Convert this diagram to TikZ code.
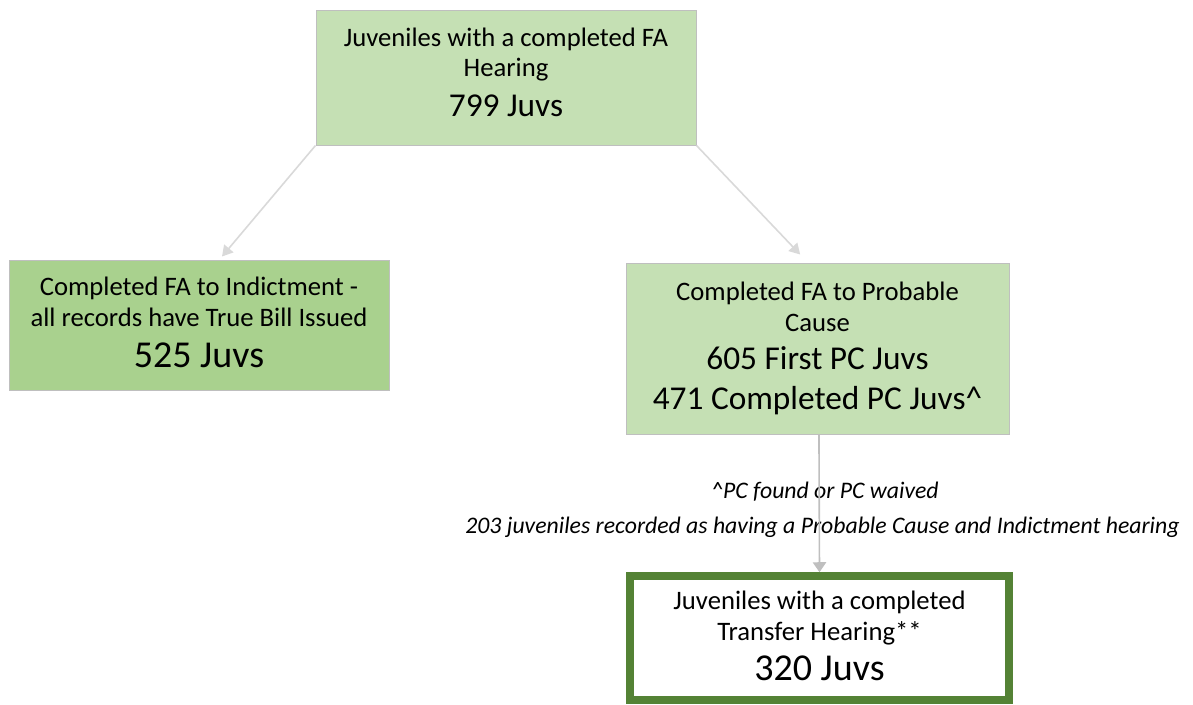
\documentclass[tikz,border=0pt]{standalone}
\usepackage{fontspec}
\setmainfont{Carlito}
\usepackage{tikz}
\usetikzlibrary{arrows.meta,positioning}

\definecolor{palegreen}{HTML}{C5E0B4}
\definecolor{midgreen}{HTML}{A9D18E}
\definecolor{darkgreen}{HTML}{548235}
\definecolor{boxgray}{HTML}{BFBFBF}
\definecolor{flowgray}{HTML}{D9D9D9}

\newcommand{\boxfont}{\fontsize{20}{23}\selectfont}
\newcommand{\countfont}{\fontsize{25}{30}\selectfont}
\newcommand{\bigcountfont}{\fontsize{28.5}{30}\selectfont}
\newcommand{\notefont}{\fontsize{17.8}{21}\selectfont\itshape}
\newcommand{\lowstrut}[1]{\rule[-#1]{0pt}{#1}}

\begin{document}
\begin{tikzpicture}[
    x=0.75pt, y=-0.75pt,
    stagebox/.style={draw=boxgray, line width=0.75pt, fill=palegreen, align=center, font=\boxfont, minimum width=285pt, inner sep=0pt},
    endbox/.style={draw=darkgreen, line width=6pt, fill=white, align=center, font=\boxfont, minimum width=284.25pt, minimum height=93pt, inner sep=0pt},
    note/.style={font=\notefont, inner sep=0pt},
    flow/.style={-{Triangle[width=9pt,length=8pt]}, line width=1.2pt, draw=flowgray}
]
\useasboundingbox (0,0) rectangle (1193,704);

\node[stagebox, minimum height=101.25pt] (FA) at (506,77.5) {Juveniles with a completed FA\\Hearing\\[6.5pt]{\countfont 799 Juvs}\lowstrut{8.25pt}};
\node[stagebox, fill=midgreen, minimum height=97.5pt] (IND) at (199,325) {Completed FA to Indictment -\\all records have True Bill Issued\\[8pt]{\bigcountfont 525 Juvs}\lowstrut{3.75pt}};
\node[stagebox, minimum width=287.25pt, minimum height=128.25pt] (PC) at (817.5,348.5) {Completed FA to Probable\\Cause\\[6pt]{\countfont 605 First PC Juvs}\\[7pt]{\countfont 471 Completed PC Juvs\^{}}\lowstrut{1.5pt}};
\node[endbox] (TH) [below=103.3pt of PC, xshift=1.5pt] {Juveniles with a completed\\Transfer Hearing**\\[7.5pt]{\bigcountfont 320 Juvs}\lowstrut{3.75pt}};

\node[note] (found) at (825,492) {\^{}PC found or PC waived};
\node[note] (both) at (822.5,527) {203 juveniles recorded as having a Probable Cause and Indictment hearing};

\draw[flow] (FA.south west) -- ([xshift=17.25pt,yshift=2.25pt]IND.north);
\draw[flow] (FA.south east) -- ([xshift=-13pt,yshift=6pt]PC.north);
\draw[flow, draw=boxgray, -{Triangle[width=10pt,length=7.5pt]}] ([xshift=1.1pt]PC.south) -- (TH.north);
\end{tikzpicture}
\end{document}
